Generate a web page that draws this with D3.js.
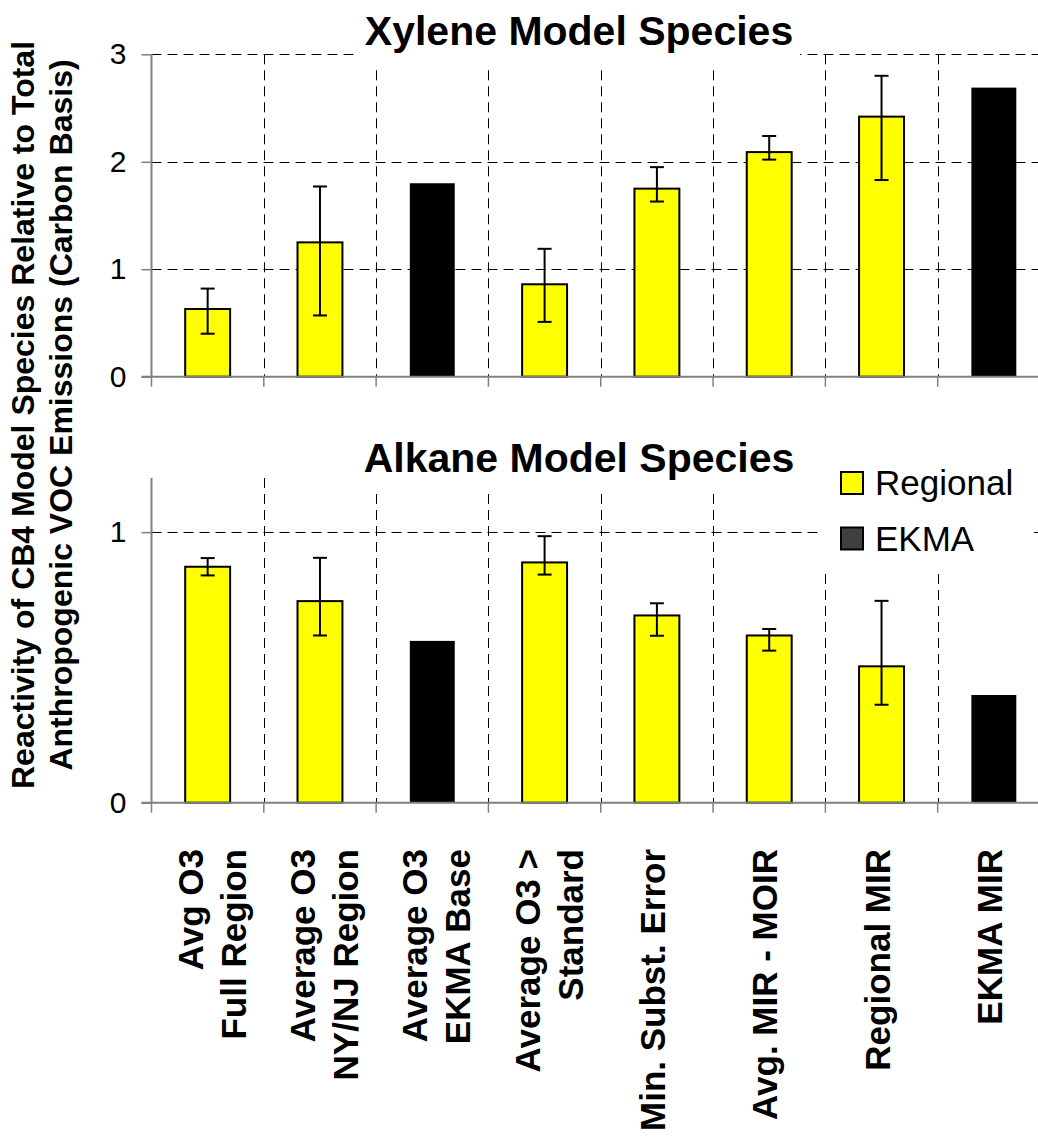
<!DOCTYPE html>
<html>
<head>
<meta charset="utf-8">
<script src="https://cdn.jsdelivr.net/npm/d3@7"></script>
<style>
  body { margin: 0; background: #fff; }
  svg { display: block; }
  svg text { font-family: "Liberation Sans", Arial, sans-serif; }
</style>
</head>
<body>
<script>
// category labels (one entry per line) and the kind of each bar
var categories = [
  ["Avg O3", "Full Region"],
  ["Average O3", "NY/NJ Region"],
  ["Average O3", "EKMA Base"],
  ["Average O3 >", "Standard"],
  ["Min. Subst. Error"],
  ["Avg. MIR - MOIR"],
  ["Regional MIR"],
  ["EKMA MIR"]
];
var kinds = ["Regional", "Regional", "EKMA", "Regional", "Regional", "Regional", "Regional", "EKMA"];

// xylene panel
var xyleneValues = [0.63, 1.25, 1.80, 0.86, 1.75, 2.09, 2.42, 2.69];
var xyleneLow    = [0.40, 0.57, null, 0.51, 1.63, 2.02, 1.83, null];
var xyleneHigh   = [0.82, 1.77, null, 1.19, 1.95, 2.24, 2.80, null];
var xyleneTicks  = [0, 1, 2, 3];

// alkane panel
var alkaneValues = [0.872, 0.745, 0.598, 0.888, 0.692, 0.618, 0.504, 0.398];
var alkaneLow    = [0.840, 0.618, null, 0.843, 0.617, 0.562, 0.362, null];
var alkaneHigh   = [0.904, 0.905, null, 0.985, 0.737, 0.642, 0.746, null];
var alkaneTicks  = [0, 1];

var legendNames = ["Regional", "EKMA"];

var width = 1038, height = 1142;
var left = 151.5, right = 1050;
var colors = {Regional: "#ffff00", EKMA: "#000000"};

var svg = d3.select("body").append("svg")
    .attr("width", width)
    .attr("height", height);

var x = d3.scaleBand()
    .domain(d3.range(categories.length))
    .range([left, right])
    .padding(0);

var barW = x.bandwidth() * 0.4;

function panel(opts) {
  var y = d3.scaleLinear().domain(opts.domain).range([opts.bottom, opts.top]);
  var g = svg.append("g");

  // horizontal grid
  g.selectAll(".hgrid")
    .data(opts.ticks.filter(function (t) { return t > 0; }))
    .enter().append("line")
    .attr("x1", left).attr("x2", right)
    .attr("y1", function (d) { return Math.round(y(d)) + 0.5; })
    .attr("y2", function (d) { return Math.round(y(d)) + 0.5; })
    .attr("stroke", "#000")
    .attr("stroke-width", 1)
    .attr("stroke-dasharray", "10,6");

  // vertical grid at category boundaries
  g.selectAll(".vgrid")
    .data(d3.range(1, categories.length))
    .enter().append("line")
    .attr("x1", function (i) { return Math.round(x(i)) + 0.5; })
    .attr("x2", function (i) { return Math.round(x(i)) + 0.5; })
    .attr("y1", opts.top).attr("y2", opts.bottom)
    .attr("stroke", "#000")
    .attr("stroke-width", 1)
    .attr("stroke-dasharray", "10,6");

  // white boxes behind title / legend
  opts.masks.forEach(function (m) {
    g.append("rect")
      .attr("x", m[0]).attr("y", m[1])
      .attr("width", m[2] - m[0]).attr("height", m[3] - m[1])
      .attr("fill", "#fff");
  });

  // bars
  g.selectAll(".bar")
    .data(opts.values)
    .enter().append("rect")
    .attr("x", function (d, i) { return x(i) + x.bandwidth() / 2 - barW / 2; })
    .attr("y", function (d) { return y(d); })
    .attr("width", barW)
    .attr("height", function (d) { return y(0) - y(d); })
    .attr("fill", function (d, i) { return colors[kinds[i]]; })
    .attr("stroke", "#000")
    .attr("stroke-width", function (d, i) { return kinds[i] === "EKMA" ? 0 : 2; });

  // error bars
  var eb = g.selectAll(".err")
    .data(opts.values.map(function (v, i) { return {i: i, lo: opts.low[i], hi: opts.high[i]}; })
      .filter(function (d) { return d.lo !== null; }))
    .enter().append("g")
    .attr("stroke", "#000")
    .attr("stroke-width", 2);
  eb.append("line")
    .attr("x1", function (d) { return x(d.i) + x.bandwidth() / 2; })
    .attr("x2", function (d) { return x(d.i) + x.bandwidth() / 2; })
    .attr("y1", function (d) { return y(d.lo); })
    .attr("y2", function (d) { return y(d.hi); });
  [ "lo", "hi" ].forEach(function (k) {
    eb.append("line")
      .attr("x1", function (d) { return x(d.i) + x.bandwidth() / 2 - 7; })
      .attr("x2", function (d) { return x(d.i) + x.bandwidth() / 2 + 7; })
      .attr("y1", function (d) { return y(d[k]); })
      .attr("y2", function (d) { return y(d[k]); });
  });

  // y axis
  var ax = g.append("g")
    .attr("transform", "translate(" + left + ",0)")
    .call(d3.axisLeft(y).tickValues(opts.ticks).tickSize(10).tickPadding(15).tickFormat(d3.format("d")));
  ax.attr("font-family", null).attr("font-size", null);
  ax.select(".domain").attr("stroke", "#808080").attr("stroke-width", 2)
    .attr("d", "M0," + opts.top + "V" + opts.bottom);
  ax.selectAll(".tick line").attr("stroke", "#808080").attr("stroke-width", 1.5);
  ax.selectAll(".tick text")
    .attr("fill", "#000")
    .style("font-size", "30px");

  // x axis line and boundary ticks
  g.append("line")
    .attr("x1", left - 10).attr("x2", right)
    .attr("y1", y(0)).attr("y2", y(0))
    .attr("stroke", "#808080").attr("stroke-width", 2);
  g.selectAll(".xtick")
    .data(d3.range(0, categories.length))
    .enter().append("line")
    .attr("x1", function (i) { return x(i); })
    .attr("x2", function (i) { return x(i); })
    .attr("y1", y(0)).attr("y2", y(0) + 10)
    .attr("stroke", "#808080").attr("stroke-width", 1.5);

  // title
  g.append("text")
    .attr("x", 579)
    .attr("y", opts.titleY)
    .attr("text-anchor", "middle")
    .style("font-size", "41px")
    .style("font-weight", "bold")
    .text(opts.title);

  return y;
}

panel({
  domain: [0, 3], top: 54.3, bottom: 376.7,
  ticks: xyleneTicks, values: xyleneValues, low: xyleneLow, high: xyleneHigh,
  title: "Xylene Model Species", titleY: 45,
  masks: [[358, 0, 800, 67]]
});

panel({
  domain: [0, 1.2], top: 478, bottom: 802.7,
  ticks: alkaneTicks, values: alkaneValues, low: alkaneLow, high: alkaneHigh,
  title: "Alkane Model Species", titleY: 472,
  masks: [[358, 430, 800, 494], [820, 460, 1034, 572]]
});

// legend
var leg = svg.append("g").attr("transform", "translate(841,472)");
legendNames.forEach(function (name, i) {
  var row = leg.append("g").attr("transform", "translate(0," + (i * 55.5) + ")");
  row.append("rect")
    .attr("width", 22).attr("height", 22)
    .attr("fill", name === "EKMA" ? "#404040" : colors[name])
    .attr("stroke", "#000").attr("stroke-width", 2);
  row.append("text")
    .attr("x", 34).attr("y", 23)
    .style("font-size", "35px")
    .text(name);
});

// category labels, rotated
svg.selectAll(".xlabel")
  .data(categories)
  .enter().append("text")
  .attr("transform", function (d, i) {
    return "translate(" + (x(i) + x.bandwidth() / 2) + ",849) rotate(-90)";
  })
  .attr("text-anchor", "end")
  .style("font-size", "35px")
  .style("font-weight", "bold")
  .each(function (lines) {
    var t = d3.select(this);
    var offs = lines.length === 1 ? [8] : [-5, 38];
    lines.forEach(function (s, j) {
      t.append("tspan").attr("x", 0).attr("y", offs[j]).text(s);
    });
  });

// y axis title
var yt = svg.append("text")
  .attr("transform", "translate(0,415) rotate(-90)")
  .attr("text-anchor", "middle")
  .style("font-size", "32px")
  .style("font-weight", "bold");
yt.append("tspan").attr("x", 0).attr("y", 33.5).text("Reactivity of CB4 Model Species Relative to Total");
yt.append("tspan").attr("x", 0).attr("y", 72).text("Anthropogenic VOC Emissions (Carbon Basis)");
</script>
</body>
</html>
